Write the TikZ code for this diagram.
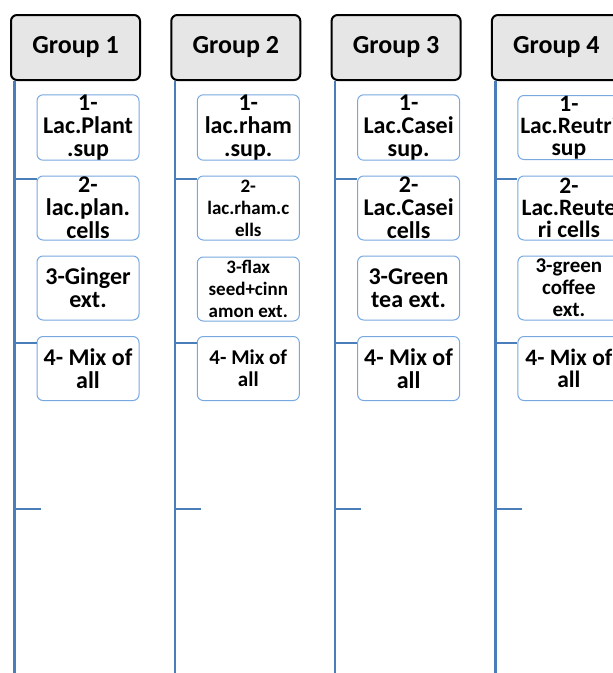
\documentclass[tikz,border=0pt]{standalone}
\usepackage{fontspec}
\setmainfont{Carlito}
\definecolor{lineblue}{RGB}{74,126,187}
\definecolor{boxblue}{RGB}{120,168,224}
\definecolor{headfill}{RGB}{230,230,230}
\newcommand\boxfont[2]{\bfseries\fontsize{#1}{#2}\selectfont\lineskiplimit=-100pt\relax}
\begin{document}
\begin{tikzpicture}[x=1pt,y=-1pt,
  headbox/.style={draw=black, line width=2pt, fill=headfill, rounded corners=6pt,
    minimum width=129pt, minimum height=65pt, inner sep=0pt,
    font=\bfseries\fontsize{26}{28}\selectfont},
  childbox/.style={draw=boxblue, line width=1pt, fill=white, rounded corners=6pt,
    minimum width=102pt, minimum height=64pt, inner sep=0pt, align=center},
  txt/.style={font=\boxfont{#1}{23}},
  txts/.style={font=\boxfont{#1}{22}},
  conn/.style={draw=lineblue, line width=2.5pt}]
\useasboundingbox (0,0) rectangle (613,673);
\clip (0,0) rectangle (613,673);
% spine coordinates
\coordinate (v1) at (14.5,0);
\coordinate (v2) at (174.8,0);
\coordinate (v3) at (335.1,0);
\coordinate (v4) at (495.4,0);
\coordinate (e1) at (14.5,680);
\coordinate (e2) at (174.8,680);
\coordinate (e3) at (335.1,680);
\coordinate (e4) at (495.4,680);
\coordinate (f1) at (40.7,509);
\coordinate (f2) at (201.0,509);
\coordinate (f3) at (361.3,509);
\coordinate (f4) at (521.6,509);
% headers
\node[headbox] (g1) at (75.5,47.5) {Group 1};
\node[headbox] (g2) at (235.8,47.5) {Group 2};
\node[headbox] (g3) at (396.1,47.5) {Group 3};
\node[headbox] (g4) at (556.4,47.5) {Group 4};
% group 1
\node[childbox, txt=24] (b11) at (88,127.5) {1-\\Lac.Plant\\.sup};
\node[childbox, txt=24] (b12) at (88,208) {2-\\lac.plan.\\cells};
\node[childbox, txt=24] (b13) at (88,288) {3-Ginger\\ext.};
\node[childbox, txt=24] (b14) at (88,368.5) {4- Mix of\\all};
% group 2
\node[childbox, txt=24] (b21) at (248.3,127.5) {1-\\lac.rham\\.sup.};
\node[childbox, txts=19] (b22) at (248.3,208) {2-\\lac.rham.c\\ells};
\node[childbox, txts=19] (b23) at (248.3,289) {3-flax\\seed+cinn\\amon ext.};
\node[childbox, txts=21] (b24) at (248.3,368.5) {4- Mix of\\all};
% group 3
\node[childbox, txt=24] (b31) at (408.6,127.5) {1-\\Lac.Casei\\sup.};
\node[childbox, txt=24] (b32) at (408.6,208) {2-\\Lac.Casei\\cells};
\node[childbox, txt=24] (b33) at (408.6,288) {3-Green\\tea ext.};
\node[childbox, txt=24] (b34) at (408.6,368.5) {4- Mix of\\all};
% group 4
\node[childbox, txts=23.5] (b41) at (568.9,127.5) {1-\\Lac.Reutri\\sup};
\node[childbox, txts=23.5] (b42) at (568.9,208) {2-\\Lac.Reute\\ri cells};
\node[childbox, txts=21] (b43) at (568.9,288) {3-green\\coffee\\ext.};
\node[childbox, txts=23.5] (b44) at (568.9,368.5) {4- Mix of\\all};
% connectors
\foreach \i in {1,2,3,4}{
  \draw[conn] (g\i.south -| v\i) -- (e\i);
  \draw[conn] (v\i |- 0,179) -- (b\i2.west |- 0,179);
  \draw[conn] (v\i |- 0,343) -- (b\i4.west |- 0,343);
  \draw[conn] (v\i |- f\i) -- (f\i);
}
\end{tikzpicture}
\end{document}
